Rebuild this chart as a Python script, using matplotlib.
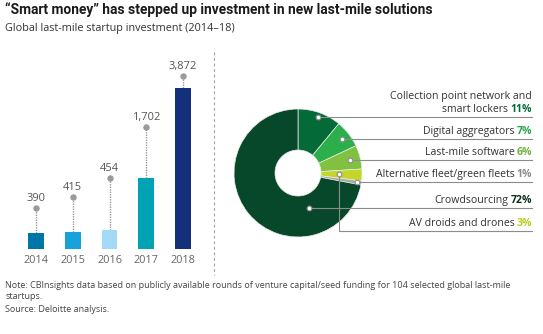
import matplotlib.pyplot as plt
import numpy as np

W, H = 543, 334  # figure size in pixels at dpi=100

plt.rcParams["font.family"] = ["Open Sans", "DejaVu Sans"]

# --- bar chart data -------------------------------------------------------
years = ["2014", "2015", "2016", "2017", "2018"]
investment = [390, 415, 454, 1702, 3872]
bar_colors = ["#0076A8", "#17A2DC", "#A2DBF7", "#00A3B3", "#14307A"]
# height of the value markers above each bar (bar units)
marker_heights = [986, 1251, 1708, 2934, 4161]

# --- donut data (clockwise from 12 o'clock) -------------------------------
segments = [
    "Collection point network and\nsmart lockers",
    "Digital aggregators",
    "Last-mile software",
    "AV droids and drones",
    "Alternative fleet/green fleets",
    "Crowdsourcing",
]
shares = [11, 7, 6, 3, 1, 72]
seg_colors = ["#046A38", "#2CAF4A", "#80C142", "#C5D62B", "#A7AAA5", "#07482A"]
pct_colors = ["#046A38", "#26A84A", "#6DB33F", "#B8CC1C", "#8C8C8C", "#0E2E1C"]
# where the leader dot sits inside each wedge: fraction along the arc, radius (px)
leader_frac = [0.5, 0.5, 0.5, 0.5, 0.5, 0.238]
leader_r = [59, 56, 54, 41, 60, 37]

GREY_TXT = "#333333"
GREY_LINE = "#8C8C8C"
LABEL_FS = 7.6


def P(x, y):
    """Pixel coords (origin top-left) -> overlay axes coords."""
    return x, H - y


fig = plt.figure(figsize=(W / 100, H / 100), dpi=100)
fig.patch.set_facecolor("white")

# overlay axes in pixel units for the donut, leaders and text
ov = fig.add_axes([0, 0, 1, 1])

# --- bars -----------------------------------------------------------------
bx_l, bx_r, by_b, by_t = 10, 209, 249, 55
ax = fig.add_axes([bx_l / W, (H - by_b) / H, (bx_r - bx_l) / W, (by_b - by_t) / H])
x = np.arange(len(years))
ax.bar(x, investment, width=0.435, color=bar_colors, zorder=2)
ax.vlines(x, investment, marker_heights, colors="#9A9A9A",
          linestyles=(0, (1, 0.8)), lw=1.0, zorder=1)
ax.plot(x, marker_heights, "o", color="#9A9A9A", ms=3.6, zorder=3)
for xi, v, mh in zip(x, investment, marker_heights):
    ax.annotate(f"{v:,}", (xi, mh), xytext=(0, 3.0), textcoords="offset points",
                ha="center", va="bottom", fontsize=8, color="#555555")
ax.set_xlim(-0.707, 4.707)
ax.set_ylim(0, 4666)
ax.set_xticks(x)
ax.set_xticklabels(years, fontsize=7.8, color="#666666")
ax.tick_params(axis="x", length=0, pad=4.5)
ax.set_yticks([])
for s in ax.spines.values():
    s.set_visible(False)
ax.patch.set_alpha(0)

# --- donut ----------------------------------------------------------------
cx, cy = P(298, 173)
R, r_in = 64, 23
ov.pie(shares, colors=seg_colors, startangle=90, counterclock=False,
       center=(cx, cy), radius=R,
       wedgeprops=dict(width=R - r_in, edgecolor="#E8EDE8", linewidth=0.5))
ov.set_xlim(0, W)
ov.set_ylim(0, H)
ov.set_aspect("auto")
ov.axis("off")

label_right = 532
start = 90.0
leaders = []
for share, frac, rad in zip(shares, leader_frac, leader_r):
    end = start - 3.6 * share
    ang = np.deg2rad(start + frac * (end - start))
    leaders.append((cx + rad * np.cos(ang), cy + rad * np.sin(ang)))
    start = end

# AV droids line drops below the crowdsourcing row
av_row_y = P(0, 231)[1]


def two_tone(y, name, pct, pct_color):
    t = ov.text(label_right, y, pct, ha="right", va="baseline", fontsize=LABEL_FS,
                fontweight="bold", color=pct_color)
    ov.annotate(name, xy=(0, y), xycoords=(t, "data"), xytext=(-1.6, 0),
                textcoords="offset points", ha="right", va="baseline",
                fontsize=LABEL_FS, color=GREY_TXT)


for i, (name, share) in enumerate(zip(segments, shares)):
    lx, ly = leaders[i]
    row_y = av_row_y if name.startswith("AV") else ly
    if row_y != ly:
        ov.plot([lx, lx, label_right], [ly, row_y, row_y], color=GREY_LINE, lw=0.8, zorder=3)
    else:
        ov.plot([lx, label_right], [ly, ly], color=GREY_LINE, lw=0.8, zorder=3)
    ov.plot(lx, ly, "o", ms=3.4, mfc="white", mec=GREY_LINE, mew=0.8, zorder=4)
    lines = name.split("\n")
    two_tone(row_y + 5, lines[-1], f"{share}%", pct_colors[i])
    if len(lines) > 1:
        ov.text(label_right, row_y + 5 + 13, lines[0], ha="right", va="baseline",
                fontsize=LABEL_FS, color=GREY_TXT)

# dashed separator between the two panels
ov.plot([214, 214], [P(0, 52)[1], P(0, 275)[1]], color="#A0A0A0", lw=0.8,
        linestyle=(0, (2.5, 2.5)))

# --- titles and notes -----------------------------------------------------
ov.text(*P(5, 9.5), "\u201cSmart money\u201d has stepped up investment in new last-mile solutions",
        ha="left", va="center", fontsize=9.9, fontweight="bold", color="#1A1A1A",
        family=["Roboto", "Open Sans", "DejaVu Sans"])
ov.text(*P(5, 28), "Global last-mile startup investment (2014\u201318)",
        ha="left", va="center", fontsize=7.8, color=GREY_TXT)
ov.text(*P(5, 280.5), "Note: CBInsights data based on publicly available rounds of venture "
        "capital/seed funding for 104 selected global last-mile\nstartups.",
        ha="left", va="top", fontsize=6.5, color="#444444", linespacing=1.3)
ov.text(*P(5, 309.5), "Source: Deloitte analysis.", ha="left", va="center",
        fontsize=6.5, color="#444444")

fig.savefig("out.png", dpi=100)
